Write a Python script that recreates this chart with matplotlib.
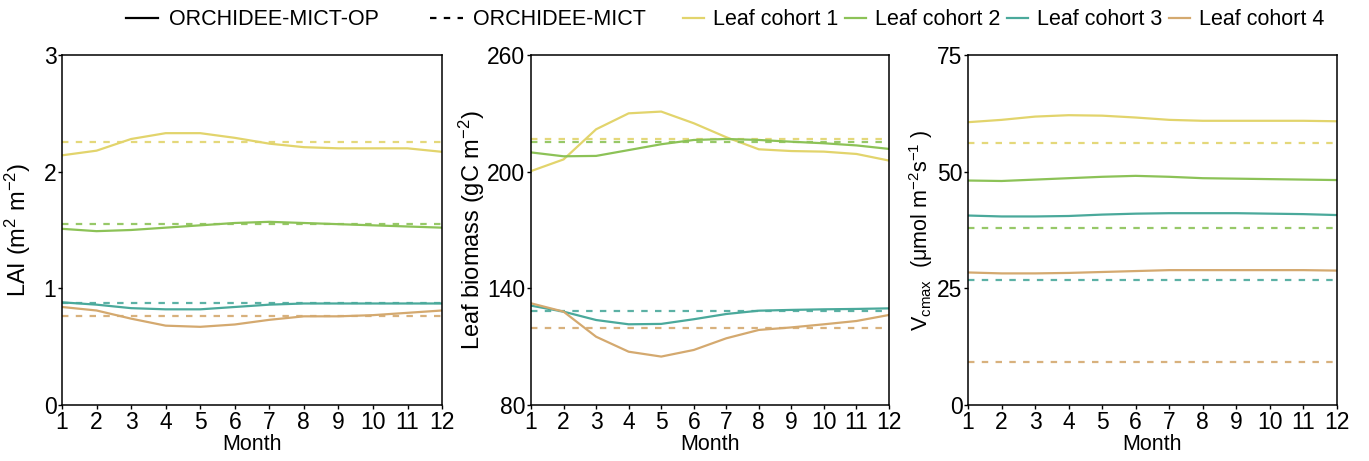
import matplotlib
matplotlib.use("Agg")
import matplotlib.pyplot as plt
from matplotlib.lines import Line2D

plt.rcParams['font.family'] = ['Liberation Sans', 'DejaVu Sans']
plt.rcParams['mathtext.fontset'] = 'custom'
plt.rcParams['mathtext.rm'] = 'Liberation Sans'
plt.rcParams['mathtext.it'] = 'Liberation Sans:italic'

months = list(range(1, 13))
cohorts = ['Leaf cohort 1', 'Leaf cohort 2', 'Leaf cohort 3', 'Leaf cohort 4']
colors = ['#e2d46c', '#8cc257', '#4aa99b', '#d4a96f']

# LAI (m2 m-2), ORCHIDEE-MICT-OP monthly values per cohort
lai_op = [
    [2.14, 2.18, 2.28, 2.33, 2.33, 2.29, 2.24, 2.21, 2.20, 2.20, 2.20, 2.17],
    [1.51, 1.49, 1.50, 1.52, 1.54, 1.56, 1.57, 1.56, 1.55, 1.54, 1.53, 1.52],
    [0.88, 0.86, 0.83, 0.82, 0.82, 0.84, 0.86, 0.87, 0.87, 0.87, 0.87, 0.87],
    [0.84, 0.81, 0.74, 0.68, 0.67, 0.69, 0.73, 0.76, 0.76, 0.77, 0.79, 0.81],
]
lai_mict = [2.25, 1.55, 0.87, 0.76]

# leaf biomass (gC m-2)
bio_op = [
    [200.3, 206.3, 221.8, 230.0, 230.9, 224.9, 217.7, 211.5, 210.6, 210.3, 209.1, 205.7],
    [209.9, 207.9, 208.1, 211.1, 214.1, 216.3, 216.8, 216.3, 215.4, 214.6, 213.5, 211.7],
    [131.1, 128.0, 123.7, 121.5, 121.7, 124.1, 126.8, 128.5, 128.9, 129.2, 129.4, 129.7],
    [132.3, 128.0, 115.1, 107.4, 104.9, 108.3, 114.3, 118.6, 119.9, 121.5, 123.2, 126.3],
]
bio_mict = [216.8, 215.2, 128.2, 119.8]

# Vcmax (umol m-2 s-1)
vc_op = [
    [60.6, 61.1, 61.8, 62.1, 62.0, 61.6, 61.1, 60.9, 60.9, 60.9, 60.9, 60.8],
    [48.1, 48.0, 48.3, 48.6, 48.9, 49.1, 48.9, 48.6, 48.5, 48.4, 48.3, 48.2],
    [40.6, 40.4, 40.4, 40.5, 40.8, 41.0, 41.1, 41.1, 41.1, 41.0, 40.9, 40.7],
    [28.4, 28.2, 28.2, 28.3, 28.5, 28.7, 28.9, 28.9, 28.9, 28.9, 28.9, 28.8],
]
vc_mict = [56.2, 37.9, 26.7, 9.2]

panels = [
    (lai_op, lai_mict, (0, 3), [0, 1, 2, 3], 'LAI (m$^{2}$ m$^{-2}$)'),
    (bio_op, bio_mict, (80, 260), [80, 140, 200, 260], 'Leaf biomass (gC m$^{-2}$)'),
    (vc_op, vc_mict, (0, 75), [0, 25, 50, 75], 'V$_{\\mathrm{cmax}}$  (μmol m$^{-2}$s$^{-1}$ )'),
]

fig = plt.figure(figsize=(13.69, 4.61), dpi=100)
boxes = [[0.0453, 0.1215, 0.2776, 0.7592],
         [0.3879, 0.1215, 0.2615, 0.7592],
         [0.7071, 0.1215, 0.2695, 0.7592]]
ylab_x = [-0.076, -0.123, -0.089]
ylab_fs = [17, 17, 15.5]

for k, (op, mict, ylim, yt, ylab) in enumerate(panels):
    ax = fig.add_axes(boxes[k])
    for i in range(4):
        ax.plot(months, op[i], color=colors[i], lw=1.6)
        ax.plot(months, [mict[i]] * 12, color=colors[i], lw=1.6, alpha=0.9,
                dashes=(2.9, 3.3))
    ax.set_xlim(1, 12)
    ax.set_ylim(*ylim)
    ax.set_xticks(months)
    ax.set_yticks(yt)
    ax.tick_params(labelsize=16.5, length=3, width=1, pad=1)
    ax.set_xlabel('Month', fontsize=15.5, labelpad=0)
    ax.set_ylabel(ylab, fontsize=ylab_fs[k])
    ax.yaxis.set_label_coords(ylab_x[k], 0.5)
    for s in ax.spines.values():
        s.set_linewidth(1.1)

h1 = [Line2D([], [], color='black', lw=1.6),
      Line2D([], [], color='black', lw=1.6, dashes=(2.9, 3.3))]
fig.legend(h1, ['ORCHIDEE-MICT-OP', 'ORCHIDEE-MICT'], loc='center',
           bbox_to_anchor=(0.282, 0.957), ncol=2, frameon=False, fontsize=15.5,
           handlelength=1.5, handletextpad=0.5, columnspacing=2.4)
h2 = [Line2D([], [], color=c, lw=1.6) for c in colors]
fig.legend(h2, cohorts, loc='center', bbox_to_anchor=(0.733, 0.957), ncol=4,
           frameon=False, fontsize=15.5, handlelength=1.0, handletextpad=0.4,
           columnspacing=0.3)

fig.savefig('out.png', dpi=100)
